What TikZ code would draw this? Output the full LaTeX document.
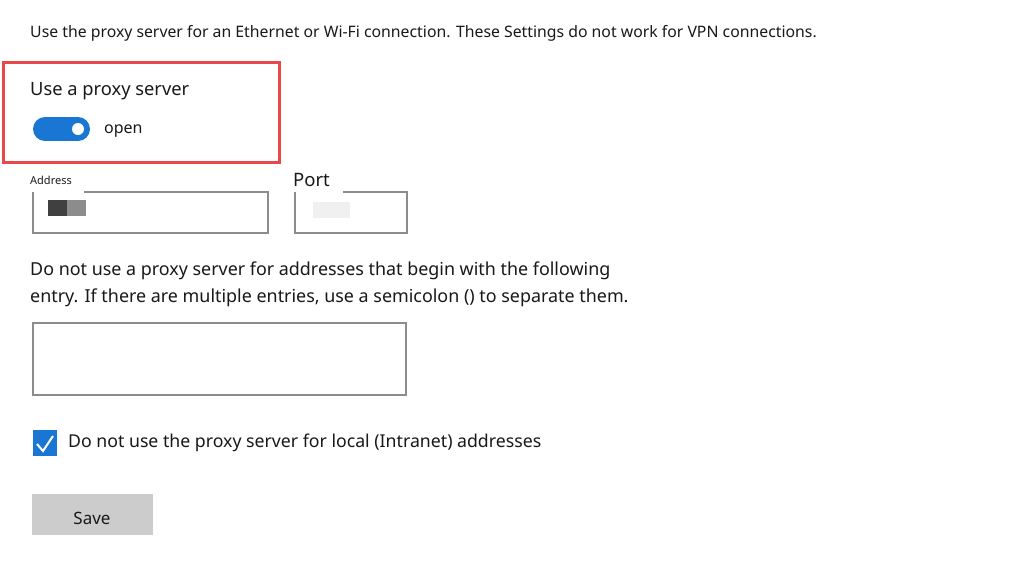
\documentclass[tikz,border=0pt]{standalone}
\usepackage{fontspec}
\setmainfont{Noto Sans}
\definecolor{winblue}{RGB}{25,118,210}
\definecolor{redbox}{RGB}{232,72,74}
\begin{document}
\begin{tikzpicture}[x=1pt,y=-1pt,
  txt/.style={anchor=west,inner sep=0pt,text=black!90},
  field/.style={draw=black!45,line width=2.2pt},
  ]
\useasboundingbox[fill=white] (0,0) rectangle (1024,576);
\node[txt,font=\fontsize{15.8}{18}\selectfont] (intro) at (30,33) {Use the proxy server for an Ethernet or Wi-Fi connection. These Settings do not work for VPN connections.};
\draw[draw=redbox,line width=3pt] (3,62) rectangle (279,162);
\node[txt,font=\fontsize{18.3}{22}\selectfont] (title) at (30,91) {Use a proxy server};
\fill[winblue] (45,117) rectangle (78,141);
\fill[winblue] (45,129) circle (12);
\fill[winblue] (78,129) circle (12);
\fill[white] (78,129) circle (6);
\node[txt,font=\fontsize{16}{19}\selectfont] (open) at (104,131) {open};
% address
\draw[field] (84,192) -- (268,192) -- (268,233) -- (33,233) -- (33,192);
\node[txt,font=\fontsize{11}{13}\selectfont] (addr) at (30,180) {Address};
\fill[black!75] (48,200) rectangle (67,216);
\fill[black!45] (67,200) rectangle (86,216);
% port
\draw[field] (343,192) -- (407,192) -- (407,233) -- (295,233) -- (295,192);
\node[txt,font=\fontsize{18.5}{22}\selectfont] (port) at (293,180) {Port};
\fill[black!6] (313,202) rectangle (350,218);
\node[txt,font=\fontsize{17.9}{27}\selectfont,align=left,anchor=north west] (desc) at (30,262) {Do not use a proxy server for addresses that begin with the following\\entry. If there are multiple entries, use a semicolon () to separate them.};
\draw[field] (33,323) rectangle (406,395);
\fill[winblue] (33,430) rectangle (57,456);
\draw[white,line width=2pt] (37,444) -- (43,451) -- (53,436);
\node[txt,font=\fontsize{17.7}{20}\selectfont] (local) at (68,443) {Do not use the proxy server for local (Intranet) addresses};
\fill[black!20] (32,494) rectangle (153,535);
\node[font=\fontsize{17}{20}\selectfont,text=black!90] (save) at (92,518) {Save};
\end{tikzpicture}
\end{document}
